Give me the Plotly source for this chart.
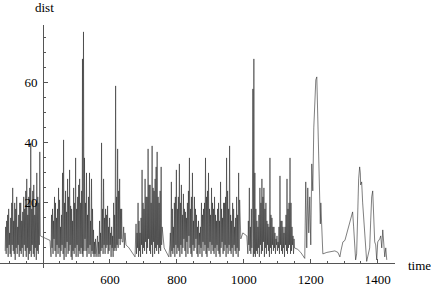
import plotly.graph_objects as go

# ---- data ----
time_a = [287, 288.5, 290, 291.5, 293, 294.5, 296, 297.5, 299, 300.5, 302, 303.5, 305, 306.5, 308,
          309.5, 311, 312.5, 314, 315.5, 317, 318.5, 320, 321.5, 323, 324.5, 326, 327.5, 329, 330.5,
          332, 333.5, 335, 336.5, 338, 339.5, 341, 342.5, 344, 345.5, 347, 348.5, 350, 351.5, 353,
          354.5, 356, 357.5, 359, 360.5, 362, 363.5, 365, 366.5, 368, 369.5, 371, 372.5, 374, 375.5,
          377, 378.5, 380, 381.5, 383, 384.5, 386, 387.5, 389, 390.5, 392]
dist_a = [4, 12, 3, 14, 5, 16, 2, 18, 6, 10, 3, 15, 2, 20, 6, 25, 4, 14, 3, 20, 1, 18, 5, 22,
          3, 12, 6, 16, 2, 20, 4, 20, 3, 14, 5, 17, 2, 22, 6, 18, 4, 24, 2, 28, 5, 16, 1, 22,
          3, 25, 4, 40, 2, 18, 6, 24, 3, 26, 2, 16, 5, 20, 1, 30, 4, 22, 3, 20, 6, 37, 9]

time_b1 = [401, 410, 421]
dist_b1 = [8.5, 8, 7.5]

time_b2 = [424, 425.5, 427, 428.5, 430, 431.5, 433, 434.5, 436, 437.5,
           439, 440.5, 442, 443.5, 445, 446.5, 448, 449.5, 451, 452.5,
           454, 455.5, 457, 458.5, 460, 461.5, 463, 464.5, 466, 467.5,
           469, 470.5, 472, 473.5, 475, 476.5, 478, 479.5, 481, 482.5,
           484, 485.5, 487, 488.5, 490, 491.5, 493, 494.5, 496, 497.5,
           499, 500.5, 502, 503.5, 505, 506.5, 508, 509.5, 511, 512.5,
           514, 515.5]
dist_b2 = [2, 16, 5, 18, 3, 14, 8, 22, 4, 20, 2, 15, 6, 18, 3, 25, 5, 21, 2, 12,
           4, 16, 6, 30, 3, 41, 1, 20, 5, 24, 2, 17, 7, 28, 3, 22, 4, 31, 6, 19,
           2, 18, 1, 14, 4, 25, 3, 20, 5, 35, 2, 18, 6, 22, 2, 26, 4, 28, 3, 20,
           5, 24]

time_s1 = [517, 518, 519.5, 521, 522.5]
dist_s1 = [3, 68, 2, 77, 4]

time_b3 = [524, 525.5, 527, 528.5, 530, 531.5, 533, 534.5, 536, 537.5,
           539, 540.5, 542, 543.5, 545, 546.5, 548, 549.5, 551, 552.5,
           554, 555.5, 557, 558.5, 560, 561.5, 563, 564.5, 566, 567.5,
           569, 570.5, 572, 573.5, 575, 576.5, 578, 579.5, 581, 582.5,
           584, 585.5, 587, 588.5, 590, 591.5, 593, 594.5, 596, 597.5,
           599, 600.5, 602, 603.5, 605, 606.5, 608, 609.5, 611, 612.5,
           614, 615.5, 617, 618.5, 620, 621.5, 623, 624.5, 626, 627.5,
           629, 630.5, 632, 633.5, 635, 636.5]
dist_b3 = [35, 8, 20, 4, 30, 2, 16, 5, 22, 3, 30, 6, 14, 2, 28, 4, 18, 3, 11, 2,
           7, 3, 8, 2, 6, 4, 9, 2, 7, 3, 14, 2, 10, 4, 40, 5, 18, 3, 28, 6,
           15, 3, 18, 5, 16, 6, 19, 3, 12, 4, 15, 6, 10, 2, 12, 5, 9, 2, 20, 4,
           16, 5, 59, 4, 22, 6, 38, 5, 24, 8, 28, 6, 18, 8, 18, 7]

time_q1 = [639, 641, 643, 645, 648, 657, 663, 669, 675]
dist_q1 = [7, 12, 5, 10, 6, 5, 4, 3, 2]

time_d = [678, 679.5, 681, 682.5, 684, 685.5, 687, 688.5, 690, 691.5,
          693, 694.5, 696, 697.5, 699, 700.5, 702, 703.5, 705, 706.5,
          708, 709.5, 711, 712.5, 714, 715.5, 717, 718.5, 720, 721.5,
          723, 724.5, 726, 727.5, 729, 730.5, 732, 733.5, 735, 736.5,
          738, 739.5, 741, 742.5, 744, 745.5, 747, 748.5, 750, 751.5,
          753, 754.5, 756]
dist_d = [13, 3, 10, 5, 20, 2, 14, 4, 10, 2, 15, 6, 31, 3, 20, 5, 18, 4, 28, 7,
          22, 3, 22, 5, 38, 8, 26, 4, 26, 3, 20, 6, 39, 2, 25, 7, 24, 3, 28, 5,
          32, 4, 37, 6, 22, 3, 20, 5, 24, 4, 32, 6, 12]

time_q2 = [762, 770, 776]
dist_q2 = [5, 3.5, 2]

time_e = [779, 780.5, 782, 783.5, 785, 786.5, 788, 789.5, 791, 792.5,
          794, 795.5, 797, 798.5, 800, 801.5, 803, 804.5, 806, 807.5,
          809, 810.5, 812, 813.5, 815, 816.5, 818, 819.5, 821, 822.5,
          824, 825.5, 827, 828.5, 830, 831.5, 833, 834.5, 836, 837.5,
          839, 840.5, 842, 843.5, 845, 846.5, 848, 849.5, 851, 852.5,
          854, 855.5, 857, 858.5, 860, 861.5, 863, 864.5, 866, 867.5,
          869, 870.5, 872, 873.5, 875, 876.5, 878, 879.5, 881, 882.5,
          884, 885.5, 887, 888.5, 890, 891.5, 893, 894.5, 896, 897.5,
          899, 900.5, 902, 903.5, 905, 906.5, 908, 909.5, 911, 912.5,
          914, 915.5, 917, 918.5, 920, 921.5, 923, 924.5, 926, 927.5,
          929, 930.5, 932, 933.5, 935, 936.5, 938, 939.5, 941, 942.5,
          944, 945.5, 947, 948.5, 950, 951.5, 953, 954.5, 956, 957.5,
          959, 960.5, 962, 963.5, 965, 966.5, 968, 969.5, 971, 972.5,
          974, 975.5, 977, 978.5, 980, 981.5, 983, 984.5, 986, 987.5]
dist_e = [6, 10, 2, 27, 4, 18, 3, 12, 5, 20, 2, 22, 6, 31, 3, 18, 5, 22, 4, 33,
          2, 20, 6, 26, 3, 16, 5, 23, 8, 18, 4, 17, 2, 15, 7, 20, 3, 24, 9, 35,
          5, 18, 3, 22, 2, 30, 6, 14, 4, 22, 5, 18, 8, 16, 3, 12, 2, 14, 6, 10,
          3, 12, 5, 20, 2, 16, 7, 18, 4, 20, 6, 35, 3, 22, 2, 24, 5, 30, 4, 18,
          7, 16, 3, 25, 6, 20, 4, 18, 3, 22, 5, 16, 2, 14, 6, 18, 4, 20, 3, 14,
          2, 27, 5, 18, 7, 15, 3, 20, 4, 20, 6, 22, 2, 35, 5, 24, 3, 18, 6, 39,
          4, 16, 3, 14, 5, 20, 2, 18, 6, 12, 4, 15, 3, 22, 5, 16, 2, 30, 4, 21]

time_f1 = [991, 997, 1003, 1009, 1012, 1013.5, 1015, 1016.5, 1018, 1019.5, 1021, 1022.5,
           1024, 1025.5, 1027, 1028.5, 1030, 1031.5, 1033]
dist_f1 = [8, 10, 9.5, 9, 3, 14, 6, 25, 4, 12, 3, 18, 5, 14, 58, 2, 68, 3, 30]

time_f2 = [1034.5, 1036, 1037.5, 1039, 1040.5, 1042, 1043.5, 1045, 1046.5, 1048,
           1049.5, 1051, 1052.5, 1054, 1055.5, 1057, 1058.5, 1060, 1061.5, 1063,
           1064.5, 1066, 1067.5, 1069, 1070.5, 1072, 1073.5, 1075, 1076.5, 1078,
           1079.5, 1081, 1082.5, 1084, 1085.5, 1087, 1088.5, 1090, 1091.5, 1093,
           1094.5, 1096, 1097.5, 1099, 1100.5, 1102, 1103.5, 1105, 1106.5, 1108,
           1109.5, 1111, 1112.5, 1114, 1115.5, 1117, 1118.5, 1120, 1121.5, 1123,
           1124.5, 1126, 1127.5, 1129, 1130.5, 1132, 1133.5, 1135, 1136.5, 1138,
           1139.5, 1141, 1142.5, 1144, 1145.5, 1147, 1148.5, 1150, 1151.5]
dist_f2 = [2, 18, 4, 14, 3, 12, 5, 16, 2, 25, 6, 20, 3, 28, 4, 22, 7, 25, 2, 18,
           5, 20, 3, 14, 6, 13, 4, 12, 2, 35, 5, 16, 3, 15, 6, 12, 4, 12, 5, 10,
           3, 8, 6, 9, 4, 7, 5, 12, 3, 29, 6, 14, 4, 14, 3, 12, 5, 10, 2, 12,
           6, 16, 4, 28, 3, 18, 5, 20, 6, 35, 3, 20, 4, 12, 6, 9, 3, 8, 5]

time_q3 = [1161, 1170, 1176, 1182]
dist_q3 = [4.5, 3.5, 2.5, 1.5]

time_g = [1185, 1188, 1191, 1194, 1197, 1200, 1203, 1206, 1209, 1212, 1215, 1218, 1219.5, 1221,
          1222.5, 1224, 1227, 1228.5, 1230, 1231.5, 1233, 1236, 1248, 1260, 1272, 1281, 1287, 1290,
          1296, 1302, 1308, 1316, 1322, 1325, 1328, 1331, 1334, 1337, 1340, 1343, 1346, 1348, 1349,
          1352, 1355, 1358, 1361, 1364, 1367, 1370, 1376, 1379, 1382, 1385, 1388, 1391, 1394, 1397,
          1400, 1406, 1409, 1412, 1415, 1418, 1421, 1424, 1427]
dist_g = [27, 5, 25, 10, 22, 6, 33, 24, 45, 57, 61, 62, 55, 48,
          39, 35, 22, 13, 20, 14, 8, 3, 3.5, 3.7, 4, 3.5, 2, 4,
          7, 7.5, 10, 14, 16, 17, 12, 6, 1, 3, 18, 28, 32, 30, 26,
          27, 20, 14, 8, 3, 0.5, 2, 5, 14, 22, 24, 15, 7, 6, 1,
          7, 8, 9, 5, 11, 6, 2, 5, 1]

x_tick_vals = [600, 800, 1000, 1200, 1400]
y_tick_vals = [20, 40, 60]

segments = [(time_a, dist_a), (time_b1, dist_b1), (time_b2, dist_b2), (time_s1, dist_s1),
            (time_b3, dist_b3), (time_q1, dist_q1), (time_d, dist_d), (time_q2, dist_q2),
            (time_e, dist_e), (time_f1, dist_f1), (time_f2, dist_f2), (time_q3, dist_q3),
            (time_g, dist_g)]
for i, (t, d) in enumerate(segments):
    assert len(t) == len(d), (i, len(t), len(d))

pairs = sorted((t, d) for ts, ds in segments for t, d in zip(ts, ds))
time = [p[0] for p in pairs]
dist = [p[1] for p in pairs]

# ---- figure ----
W, H = 431, 285
x_min, x_max = 271.6, 1451.6
y_min, y_max = -1.7, 79.3
x_dom = [0, 395 / W]
y_dom = [(H - 268) / H, (H - 25) / H]
origin_x = 400
x_axis_pos = y_dom[0] + (0 - y_min) / (y_max - y_min) * (y_dom[1] - y_dom[0])
y_axis_pos = x_dom[0] + (origin_x - x_min) / (x_max - x_min) * (x_dom[1] - x_dom[0])

font = dict(family="Liberation Serif, Times New Roman, serif", size=13, color="#000000")
axis_col = "#555555"

fig = go.Figure()
fig.add_trace(go.Scatter(x=time, y=dist, mode="lines",
                         line=dict(color="#2a2a2a", width=0.6), hoverinfo="skip"))

x_minor = [v for v in range(300, 1451, 50) if v not in x_tick_vals and v != origin_x]
y_minor = [v for v in range(5, 80, 5) if v not in y_tick_vals]

fig.update_layout(
    template="none",
    font=font,
    width=W, height=H, margin=dict(l=0, r=0, t=0, b=0),
    plot_bgcolor="white", paper_bgcolor="white", showlegend=False,
    xaxis=dict(domain=x_dom, range=[x_min, x_max], anchor="free", position=x_axis_pos,
               showline=True, linecolor=axis_col, linewidth=1, showgrid=False, zeroline=False,
               ticks="inside", ticklen=4, tickcolor=axis_col, tickwidth=1,
               tickmode="array", tickvals=x_tick_vals, ticktext=[str(v) for v in x_tick_vals],
               tickfont=font, ticklabelstandoff=4,
               minor=dict(ticks="inside", ticklen=2, tickcolor=axis_col, tickmode="array",
                          tickvals=x_minor, showgrid=False)),
    yaxis=dict(domain=y_dom, range=[y_min, y_max], anchor="free", position=y_axis_pos,
               showline=True, linecolor=axis_col, linewidth=1, showgrid=False, zeroline=False,
               ticks="inside", ticklen=4, tickcolor=axis_col, tickwidth=1,
               tickmode="array", tickvals=y_tick_vals, ticktext=[str(v) for v in y_tick_vals],
               tickfont=font, ticklabelstandoff=3,
               minor=dict(ticks="inside", ticklen=2, tickcolor=axis_col, tickmode="array",
                          tickvals=y_minor, showgrid=False)),
    annotations=[
        dict(text="dist", xref="paper", yref="paper", x=44 / W, y=(H - 8) / H,
             xanchor="center", yanchor="middle", showarrow=False, font=font),
        dict(text="time", xref="paper", yref="paper", x=406 / W, y=(H - 265) / H,
             xanchor="left", yanchor="middle", showarrow=False, font=font),
    ],
)

fig.write_html("out.html")
